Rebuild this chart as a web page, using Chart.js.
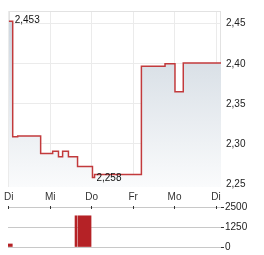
<!DOCTYPE html>
<html>
<head>
<meta charset="utf-8">
<script src="https://cdn.jsdelivr.net/npm/chart.js@4"></script>
<style>
  body { margin:0; background:#fff; }
  #wrap { position:relative; width:264px; height:255px; }
  #priceBox { position:absolute; left:0; top:0; width:264px; height:205px; }
  #volBox { position:absolute; left:0; top:200px; width:264px; height:55px; }
</style>
</head>
<body>
<div id="wrap">
  <div id="priceBox"><canvas id="priceChart"></canvas></div>
  <div id="volBox"><canvas id="volChart"></canvas></div>
</div>
<script>
// DATA - x in days from the first "Di"
const dayLabels = ['Di','Mi','Do','Fr','Mo','Di'];
const priceT = [0, 0.096, 0.216, 0.77, 1.06, 1.20, 1.30, 1.44, 1.66, 2.02, 2.07, 3.20, 3.77, 4.01, 4.21, 5.12];
const priceV = [2.453, 2.309, 2.310, 2.288, 2.291, 2.284, 2.291, 2.284, 2.272, 2.258, 2.262, 2.397, 2.400, 2.365, 2.401, 2.401];
const priceTicks = [2.25, 2.30, 2.35, 2.40, 2.45];
const volT = [0.055, 1.635, 1.84];
const volV = [190, 1950, 1950];
const volTicks = [0, 1250, 2500];

const xMax = 5.12;
const barPx = [4, 2, 13];
const font = { family: "'Liberation Sans', Arial, sans-serif", size: 10 };
Chart.defaults.font = font;
Chart.defaults.color = '#222';

const comma = (v, d) => v.toFixed(d).replace('.', ',');

// frame around the price plot
const framePlugin = {
    id: 'frame',
    beforeDatasetsDraw(chart) {
        const a = chart.chartArea, ctx = chart.ctx;
        ctx.save();
        ctx.strokeStyle = '#e2e2e2';
        ctx.lineWidth = 1;
        ctx.strokeRect(Math.round(a.left) + 0.5, Math.round(a.top) + 0.5,
            Math.round(a.right - a.left) - 1, Math.round(a.bottom - a.top) - 1);
        ctx.restore();
    }
};

// max / min labels
const extremaPlugin = {
    id: 'extrema',
    afterDatasetsDraw(chart) {
        const xs = chart.scales.x, ys = chart.scales.y, ctx = chart.ctx;
        const hi = priceV.indexOf(Math.max(...priceV));
        const lo = priceV.indexOf(Math.min(...priceV));
        ctx.save();
        ctx.font = "10px 'Liberation Sans', Arial, sans-serif";
        ctx.fillStyle = '#111';
        ctx.textAlign = 'left';
        ctx.textBaseline = 'middle';
        ctx.fillText(comma(priceV[hi], 3), xs.getPixelForValue(priceT[hi]) + 6, ys.getPixelForValue(priceV[hi]) - 1);
        ctx.fillText(comma(priceV[lo], 3), xs.getPixelForValue(priceT[lo]) + 4, ys.getPixelForValue(priceV[lo]) + 1);
        ctx.restore();
    }
};

// PRICE CHART
new Chart(document.getElementById('priceChart'), {
    type: 'line',
    data: {
        datasets: [{
            data: priceT.map((t, i) => ({ x: t, y: priceV[i] })),
            borderColor: '#c23a3c',
            borderWidth: 1.5,
            pointRadius: 0,
            stepped: true,
            fill: 'start',
            backgroundColor: (c) => {
                const a = c.chart.chartArea;
                if (!a) return '#e8ecf0';
                const g = c.chart.ctx.createLinearGradient(0, a.top, 0, a.bottom);
                g.addColorStop(0, '#ccd5de');
                g.addColorStop(1, '#fafbfc');
                return g;
            }
        }]
    },
    options: {
        animation: false,
        responsive: true,
        maintainAspectRatio: false,
        layout: { padding: { left: 8, top: 7, right: 0, bottom: 0 } },
        plugins: { legend: { display: false }, tooltip: { enabled: false } },
        scales: {
            x: {
                type: 'linear', min: 0, max: xMax,
                afterBuildTicks: s => { s.ticks = dayLabels.map((_, i) => ({ value: i })); },
                afterFit: s => { s.height = 18; },
                grid: { color: '#ebebeb', drawTicks: false },
                border: { display: false },
                ticks: { padding: 4, maxRotation: 0, autoSkip: false, color: '#333',
                    callback: v => dayLabels[v] }
            },
            y: {
                position: 'right', min: 2.2463, max: 2.4659,
                afterBuildTicks: s => { s.ticks = priceTicks.map(v => ({ value: v })); },
                afterFit: s => { s.width = 43; },
                grid: { color: '#ebebeb', drawTicks: false },
                border: { display: false },
                ticks: { padding: 5, color: '#222', callback: v => comma(v, 2) }
            }
        }
    },
    plugins: [framePlugin, extremaPlugin]
});

// small day ticks on top line of volume panel
const dayTickPlugin = {
    id: 'dayTicks',
    afterDraw(chart) {
        const xs = chart.scales.x, a = chart.chartArea, ctx = chart.ctx;
        ctx.save();
        ctx.strokeStyle = '#333';
        ctx.lineWidth = 1;
        dayLabels.forEach((_, i) => {
            const px = Math.round(xs.getPixelForValue(i)) + 0.5;
            ctx.beginPath();
            ctx.moveTo(px, a.top - 1);
            ctx.lineTo(px, a.top + 2);
            ctx.stroke();
        });
        ctx.restore();
    }
};

// VOLUME CHART
new Chart(document.getElementById('volChart'), {
    type: 'bar',
    data: {
        datasets: volT.map((t, i) => ({
            data: [{ x: t, y: volV[i] }],
            backgroundColor: '#b52226',
            barThickness: barPx[i],
            grouped: false
        }))
    },
    options: {
        animation: false,
        responsive: true,
        maintainAspectRatio: false,
        layout: { padding: { left: 8, top: 7, right: 0, bottom: 8 } },
        plugins: { legend: { display: false }, tooltip: { enabled: false } },
        scales: {
            x: { type: 'linear', min: 0, max: xMax, offset: false, display: false },
            y: {
                position: 'right', min: 0, max: 2500,
                afterBuildTicks: s => { s.ticks = volTicks.map(v => ({ value: v })); },
                afterFit: s => { s.width = 43; },
                grid: { color: '#c8c8c8', tickColor: '#333', tickLength: 3 },
                border: { display: false },
                ticks: { padding: 1, color: '#222', callback: v => String(v) }
            }
        }
    },
    plugins: [dayTickPlugin]
});
</script>
</body>
</html>
